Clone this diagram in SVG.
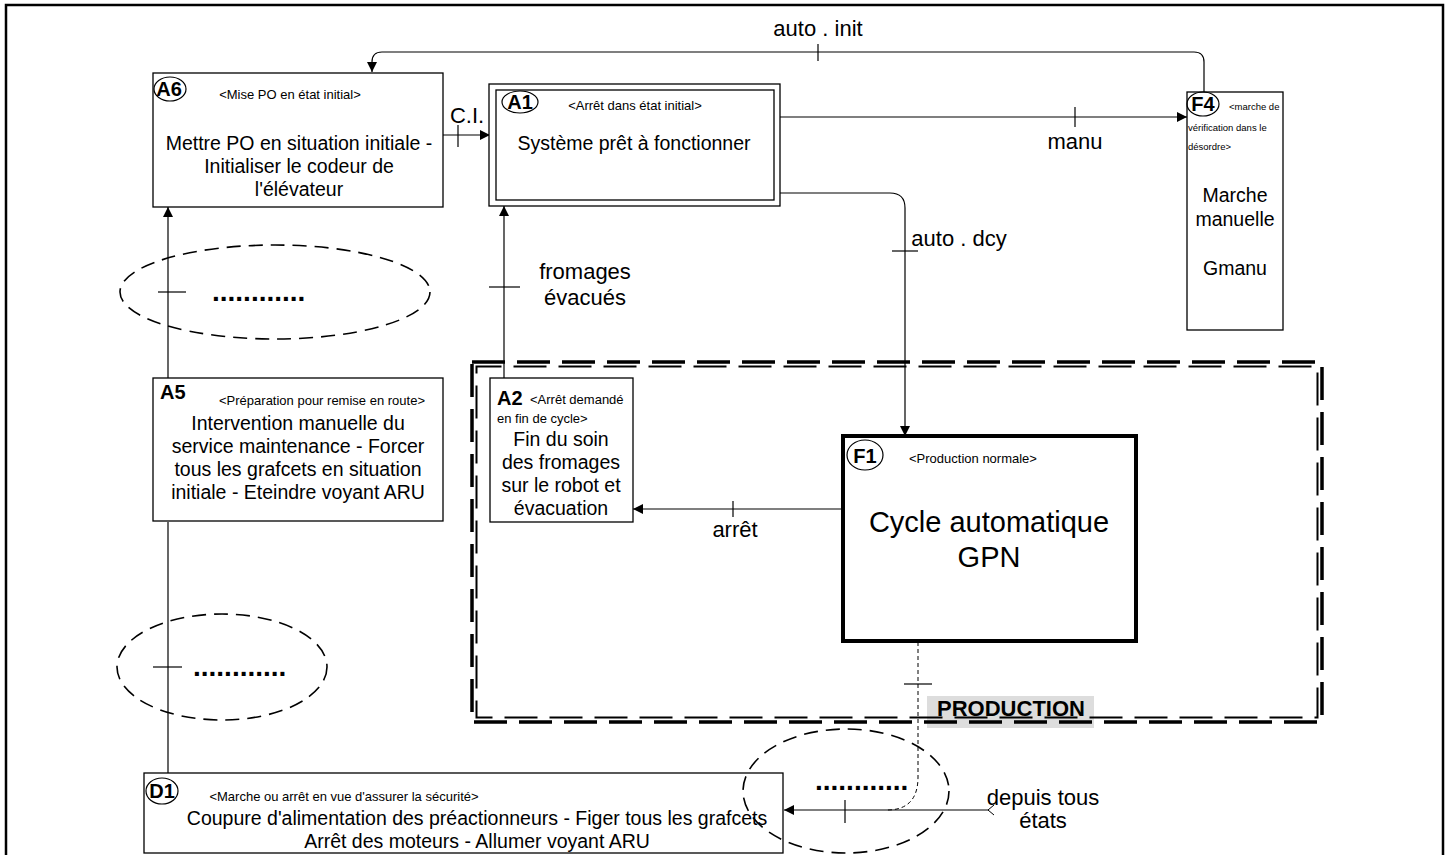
<svg xmlns="http://www.w3.org/2000/svg" width="1450" height="855" viewBox="0 0 1450 855">
<defs>
<marker id="ah" viewBox="0 0 10 10" refX="10" refY="5" markerWidth="10" markerHeight="10" markerUnits="userSpaceOnUse" orient="auto">
<path d="M0,0 L10,5 L0,10 z" fill="#000"/>
</marker>
</defs>
<style>
text{font-family:"Liberation Sans",Arial,sans-serif;fill:#000}
.box{fill:#fff;stroke:#000;stroke-width:1.3}
.main{font-size:19.5px;text-anchor:middle}
.sub{font-size:13px}
.tag{font-size:20px;font-weight:bold}
.lbl{font-size:22px;text-anchor:middle}
.ln{fill:none;stroke:#000;stroke-width:1.2}
.tk{stroke:#000;stroke-width:1.2}
.oval{fill:none;stroke:#000;stroke-width:1.2}
.dash{fill:none;stroke:#000;stroke-width:1.6;stroke-dasharray:14 8}
.dots{font-size:28px;font-weight:bold}
</style>
<rect x="0" y="0" width="1450" height="855" fill="#fff"/>
<path d="M6,870 V5 H1443 V870" fill="none" stroke="#000" stroke-width="2.5"/>

<g id="production-frame">
<rect x="927" y="696" width="167" height="32" fill="#ddd"/>
<rect x="472" y="362" width="850" height="360" fill="none" stroke="#000" stroke-width="3.5" stroke-dasharray="33 12"/>
<rect x="476.5" y="366.5" width="841" height="351" fill="none" stroke="#000" stroke-width="2" stroke-dasharray="33 12" stroke-dashoffset="8"/>
<text x="1011" y="716" font-size="22" font-weight="bold" text-anchor="middle">PRODUCTION</text>
</g>

<g id="connectors">
<!-- auto . init -->
<path d="M1204,92 V62 Q1204,52 1194,52 H382 Q372,52 372,62 V72" class="ln" marker-end="url(#ah)"/>
<line x1="818" y1="44" x2="818" y2="61" class="tk"/>
<text x="818" y="36" class="lbl" font-size="21">auto . init</text>
<!-- C.I. -->
<line x1="443" y1="135" x2="490" y2="135" class="ln" marker-end="url(#ah)"/>
<line x1="458" y1="125" x2="458" y2="147" class="tk"/>
<text x="467" y="123" class="lbl" font-size="21">C.I.</text>
<!-- manu -->
<line x1="780" y1="117" x2="1187" y2="117" class="ln" marker-end="url(#ah)"/>
<line x1="1075" y1="107" x2="1075" y2="127" class="tk"/>
<text x="1075" y="149" class="lbl">manu</text>
<!-- auto . dcy -->
<path d="M780,193 H890 Q905,193 905,208 V436" class="ln" marker-end="url(#ah)"/>
<line x1="892" y1="251" x2="918" y2="251" class="tk"/>
<text x="959" y="246" class="lbl" font-size="18.5">auto . dcy</text>
<!-- fromages évacués -->
<line x1="504" y1="380" x2="504" y2="206" class="ln" marker-end="url(#ah)"/>
<line x1="489" y1="287" x2="520" y2="287" class="tk"/>
<text x="585" y="279" class="lbl">fromages</text>
<text x="585" y="305" class="lbl">évacués</text>
<!-- A5 to A6 -->
<line x1="168" y1="378" x2="168" y2="207" class="ln" marker-end="url(#ah)"/>
<line x1="158" y1="292" x2="186" y2="292" class="tk"/>
<!-- arrêt -->
<line x1="843" y1="509" x2="633" y2="509" class="ln" marker-end="url(#ah)"/>
<line x1="733" y1="501" x2="733" y2="517" class="tk"/>
<text x="735" y="537" class="lbl">arrêt</text>
<!-- D1 to A5 -->
<line x1="168" y1="773" x2="168" y2="522" class="ln"/>
<line x1="153" y1="667" x2="182" y2="667" class="tk"/>
<!-- F1 to D1 dashed -->
<path d="M918,642 V777 Q918,810 887,810" fill="none" stroke="#000" stroke-width="1" stroke-dasharray="4 3"/>
<line x1="904" y1="684" x2="932" y2="684" class="tk"/>
<!-- depuis tous états -->
<line x1="989" y1="810" x2="784" y2="810" class="ln" marker-end="url(#ah)"/>
<path d="M994,805 L988,810 L994,815" fill="none" stroke="#000" stroke-width="1"/>
<line x1="845" y1="800" x2="845" y2="823" class="tk"/>
<text x="1043" y="805" class="lbl" font-size="17">depuis tous</text>
<text x="1043" y="828" class="lbl" font-size="17">états</text>
</g>

<g id="A6">
<rect x="153" y="73" width="290" height="134" class="box"/>
<ellipse cx="170" cy="89" rx="16" ry="12" class="oval"/>
<text x="169" y="96" class="tag" text-anchor="middle">A6</text>
<text x="290" y="99" class="sub" text-anchor="middle">&lt;Mise PO en état initial&gt;</text>
<text x="299" y="150" class="main">Mettre PO en situation initiale -</text>
<text x="299" y="173" class="main">Initialiser le codeur de</text>
<text x="299" y="196" class="main">l'élévateur</text>
</g>

<g id="A1">
<rect x="489" y="84" width="291" height="122" class="box"/>
<rect x="496" y="90" width="278" height="110" class="box"/>
<ellipse cx="520" cy="102" rx="18" ry="11" class="oval"/>
<text x="520" y="109" class="tag" text-anchor="middle">A1</text>
<text x="635" y="110" class="sub" text-anchor="middle">&lt;Arrêt dans état initial&gt;</text>
<text x="634" y="150" class="main">Système prêt à fonctionner</text>
</g>

<g id="F4">
<rect x="1187" y="92" width="96" height="238" class="box"/>
<ellipse cx="1203" cy="104" rx="16" ry="12" class="oval"/>
<text x="1203" y="111" class="tag" text-anchor="middle">F4</text>
<text x="1229" y="110" font-size="9.5">&lt;marche de</text>
<text x="1188" y="131" font-size="9.5">vérification dans le</text>
<text x="1188" y="150" font-size="9.5">désordre&gt;</text>
<text x="1235" y="202" class="main">Marche</text>
<text x="1235" y="226" class="main">manuelle</text>
<text x="1235" y="275" class="main">Gmanu</text>
</g>

<g id="A2">
<rect x="490" y="378" width="143" height="144" class="box"/>
<text x="497" y="405" class="tag">A2</text>
<text x="530" y="404" class="sub">&lt;Arrêt demandé</text>
<text x="497" y="423" class="sub">en fin de cycle&gt;</text>
<text x="561" y="446" class="main">Fin du soin</text>
<text x="561" y="469" class="main">des fromages</text>
<text x="561" y="492" class="main">sur le robot et</text>
<text x="561" y="515" class="main">évacuation</text>
</g>

<g id="F1">
<rect x="843" y="436" width="293" height="205" fill="#fff" stroke="#000" stroke-width="4"/>
<ellipse cx="865" cy="455" rx="18" ry="15" class="oval"/>
<text x="865" y="463" class="tag" text-anchor="middle">F1</text>
<text x="973" y="463" class="sub" text-anchor="middle">&lt;Production normale&gt;</text>
<text x="989" y="532" font-size="29" text-anchor="middle">Cycle automatique</text>
<text x="989" y="567" font-size="29" text-anchor="middle">GPN</text>
</g>

<g id="A5">
<rect x="153" y="378" width="290" height="143" class="box"/>
<text x="160" y="399" class="tag">A5</text>
<text x="322" y="405" class="sub" text-anchor="middle">&lt;Préparation pour remise en route&gt;</text>
<text x="298" y="430" class="main">Intervention manuelle du</text>
<text x="298" y="453" class="main">service maintenance - Forcer</text>
<text x="298" y="476" class="main">tous les grafcets en situation</text>
<text x="298" y="499" class="main">initiale - Eteindre voyant ARU</text>
</g>

<g id="D1">
<rect x="144" y="773" width="639" height="80" class="box"/>
<ellipse cx="162" cy="791" rx="16" ry="13" class="oval"/>
<text x="162" y="798" class="tag" text-anchor="middle">D1</text>
<text x="344" y="801" class="sub" text-anchor="middle">&lt;Marche ou arrêt en vue d'assurer la sécurité&gt;</text>
<text x="477" y="825" class="main">Coupure d'alimentation des préactionneurs - Figer tous les grafcets</text>
<text x="477" y="848" class="main">Arrêt des moteurs - Allumer voyant ARU</text>
</g>

<g id="ellipses">
<ellipse cx="275" cy="292" rx="155" ry="47" class="dash"/>
<text x="212" y="301" class="dots">............</text>
<ellipse cx="222" cy="667" rx="105" ry="53" class="dash"/>
<text x="193" y="676" class="dots">............</text>
<ellipse cx="846" cy="791" rx="103" ry="62" class="dash"/>
<text x="815" y="790" class="dots">............</text>
</g>
</svg>
